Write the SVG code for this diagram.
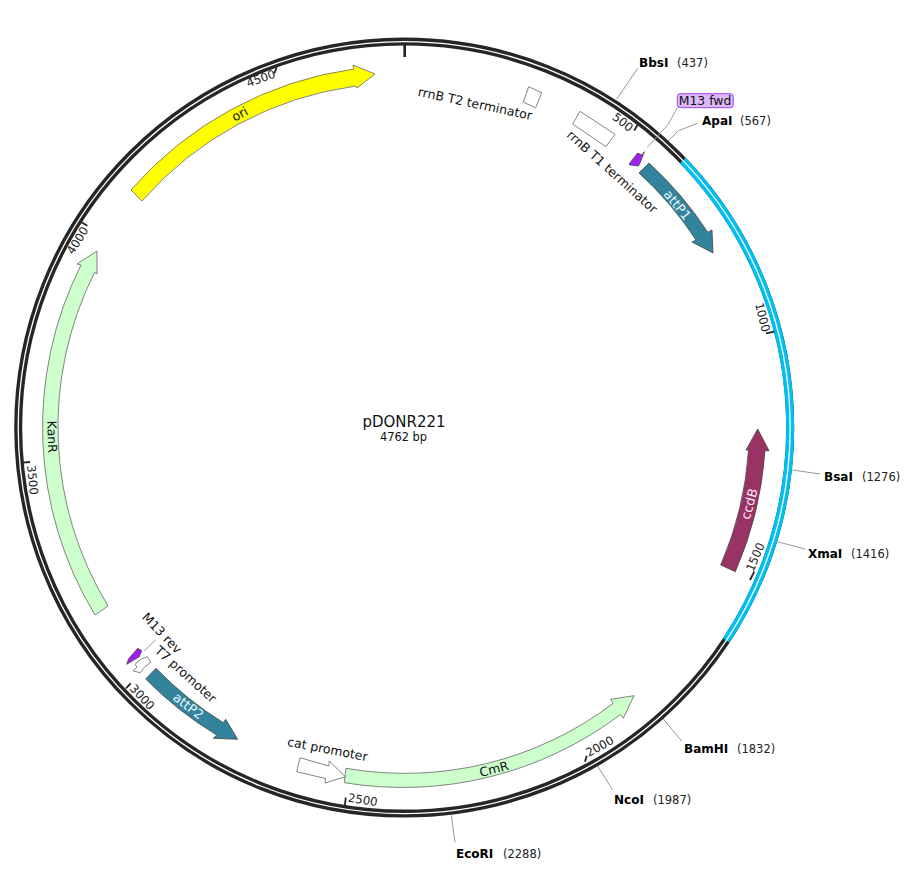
<svg xmlns="http://www.w3.org/2000/svg" width="922" height="871" viewBox="0 0 922 871">
<style>
text{font-family:"DejaVu Sans","Liberation Sans",sans-serif;fill:#111}
.f{stroke:#666;stroke-width:.8;stroke-linejoin:miter}
.d{stroke:#444}
.w{fill:#fff}
.b{font-weight:bold;font-size:12px;fill:#000}
.p{font-size:11.5px;fill:#222}
.t{font-size:11.7px;text-anchor:middle;fill:#222}
.l{font-size:12.5px;text-anchor:middle}
.lw{font-size:13px;text-anchor:middle;fill:#e8f8ff}
.ll{stroke:#999;stroke-width:1;fill:none}
.tk{stroke:#222;stroke-width:1.8;fill:none}
</style>
<rect width="922" height="871" fill="#fff"/>
<g id="backbone" fill="none">
<circle cx="404.2" cy="427.6" r="386" stroke="#262626" stroke-width="8"/>
<path d="M682.8,160.4A386,386 0 0 1 726.2,640.4" stroke="#00bff3" stroke-width="8"/>
<circle cx="404.2" cy="427.6" r="386" stroke="#fff" stroke-width="1.3"/>
</g>
<g id="ticks">
<path class="tk" style="stroke-width:2.6" d="M404.7,44V57"/>
<path class="tk" d="M637.3,125L634.3,130.7M774.3,331.7L766,333.3M754.3,571.7L750,580M586.7,755.7L585,761.7M345.8,797.5L344.8,806M130.7,683.3L126,688.3M22.5,462.6L30,462M80.7,221.7L87.3,225.7M276.7,67.3L274.3,73.3"/>
<g class="tl">
<text class="t" transform="translate(622.8,122.2) rotate(37.8)" y="4">500</text>
<text class="t" transform="translate(762.5,317.3) rotate(75.6)" y="4">1000</text>
<text class="t" transform="translate(755.4,557) rotate(-66.6)" y="4">1500</text>
<text class="t" transform="translate(599.8,746.4) rotate(-28.8)" y="4">2000</text>
<text class="t" transform="translate(362.8,800) rotate(9)" y="4">2500</text>
<text class="t" transform="translate(142.2,697.2) rotate(46.8)" y="4">3000</text>
<text class="t" transform="translate(32.5,480) rotate(84.6)" y="4">3500</text>
<text class="t" transform="translate(77.5,240.5) rotate(-57.6)" y="4">4000</text>
<text class="t" transform="translate(261,78.5) rotate(-19.8)" y="4">4500</text>
</g>
</g>
<g id="connectors">
<path class="ll" d="M616.7,99.3L637.7,68.3"/>
<path class="ll" d="M647.3,147.3L668.3,124.3L677.3,107.7"/>
<path class="ll" d="M668.3,141L678.3,130.7L697.7,123.3"/>
<path class="ll" d="M792.3,470L820,474"/>
<path class="ll" d="M777.3,541.7L805,549"/>
<path class="ll" d="M663.3,719L681.7,741"/>
<path class="ll" d="M597.3,765.7L612.7,790"/>
<path class="ll" d="M451.3,815.3L455,842.3"/>
<path class="ll" d="M155.7,640L144.3,650.7"/>
</g>
<g id="ori"><path class="f" fill="#ffff00" d="M131,190A362,362 0 0 1 353.6,69.1L353,65L375,74L357,88L355.9,86A345,345 0 0 0 142,201Z"/><text class="l" transform="translate(240,114.3) rotate(-28)" y="4">ori</text></g>
<g id="attP1"><path class="f d" fill="#31849b" d="M649,163A361,361 0 0 1 707.8,232.3L712,230L713,253L692,242L696,239.9A347,347 0 0 0 639,173Z"/><text class="lw" transform="translate(677.3,205) rotate(51)" y="4.5">attP1</text></g>
<g id="ccdB"><path class="f d" fill="#993366" d="M735.3,571.7A362,362 0 0 0 765,450.7L769,450.7L757.7,429L746,450L748.5,450.2A345,345 0 0 1 720.7,565Z"/><text class="lw" transform="translate(749.3,504) rotate(-75)" y="4.5" style="fill:#fce8f4">ccdB</text></g>
<g id="CmR"><path class="f" fill="#ccffcc" d="M344.3,782.7A361,361 0 0 0 620.5,714.5L623.3,718.3L634,695.7L610.7,699.3L613,703.5A345,345 0 0 1 346,768.3Z"/><text class="l" transform="translate(494,769.3) rotate(-14.5)" y="4">CmR</text></g>
<g id="attP2"><path class="f d" fill="#31849b" d="M145.7,679A362,362 0 0 0 216.7,735L213.3,738.3L237.7,739.3L225.7,719.3L223.3,722.7A345,345 0 0 1 156,668.3Z"/><text class="lw" transform="translate(188.3,706) rotate(37)" y="4.5">attP2</text></g>
<g id="KanR"><path class="f" fill="#ccffcc" d="M95,615A362,362 0 0 1 81,265L77,264L97,251L97,274L94.5,272.5A345,345 0 0 0 108,606Z"/><text class="l" transform="translate(51.7,436.7) rotate(88.5)" y="4">KanR</text></g>
<g id="cat-promoter"><path class="f w" d="M300,757.7L328.7,766L329.3,761L345.3,776.7L325,783L325.5,778.5L296.7,771.7Z"/><text class="l" transform="translate(327.5,749.5) rotate(11)" y="4">cat promoter</text></g>
<g id="rrnB-T2"><path class="f w" d="M528.7,86.7L541.7,92.7L535.7,107.7L523.3,102.3Z"/><text class="l" transform="translate(475,104) rotate(12)" y="4">rrnB T2 terminator</text></g>
<g id="rrnB-T1"><path class="f w" d="M580,111.3L615,134.3L606,146.7L572.7,124Z"/><text class="l" transform="translate(612,172) rotate(42)" y="4">rrnB T1 terminator</text></g>
<g id="T7"><path class="f w" d="M141,659L147.3,656.7L150.7,662.3L144.3,667.3L140.3,672.7L133,671L137,667L135,664.3Z"/><text class="l" transform="translate(185.5,674.5) rotate(42)" y="4">T7 promoter</text></g>
<g id="M13rev"><path class="f d" fill="#a020f0" d="M126.7,664.3L128.5,659L137.7,648.3L141.7,650.7L139.3,656.7L130,662.3Z"/><text class="l" transform="translate(161.7,633.3) rotate(46)" y="4">M13 rev</text></g>
<g id="M13fwd"><path class="f d" fill="#a020f0" d="M629,164L631,161.5L637.7,153L641.7,155L644.3,151.7L640,163.3L638.3,166L630,165Z"/><rect x="677.3" y="93.7" width="56" height="14" rx="3" fill="#dcb8ff" stroke="#a040f0"/><text x="678.8" y="105" style="font-size:12.4px">M13 fwd</text></g>
<g id="BbsI"><text class="b" x="639" y="67">BbsI</text><text class="p" x="677" y="67">(437)</text></g>
<g id="ApaI"><text class="b" x="702" y="125">ApaI</text><text class="p" x="740" y="125">(567)</text></g>
<g id="BsaI"><text class="b" x="824" y="481">BsaI</text><text class="p" x="862" y="481">(1276)</text></g>
<g id="XmaI"><text class="b" x="808" y="558">XmaI</text><text class="p" x="851" y="558">(1416)</text></g>
<g id="BamHI"><text class="b" x="684" y="753">BamHI</text><text class="p" x="737" y="753">(1832)</text></g>
<g id="NcoI"><text class="b" x="614" y="804">NcoI</text><text class="p" x="653" y="804">(1987)</text></g>
<g id="EcoRI"><text class="b" x="456" y="858">EcoRI</text><text class="p" x="503" y="858">(2288)</text></g>
<g id="title"><text x="404" y="427" text-anchor="middle" style="font-size:15px">pDONR221</text><text x="403.5" y="441" text-anchor="middle" style="font-size:11.4px">4762 bp</text></g>
</svg>
